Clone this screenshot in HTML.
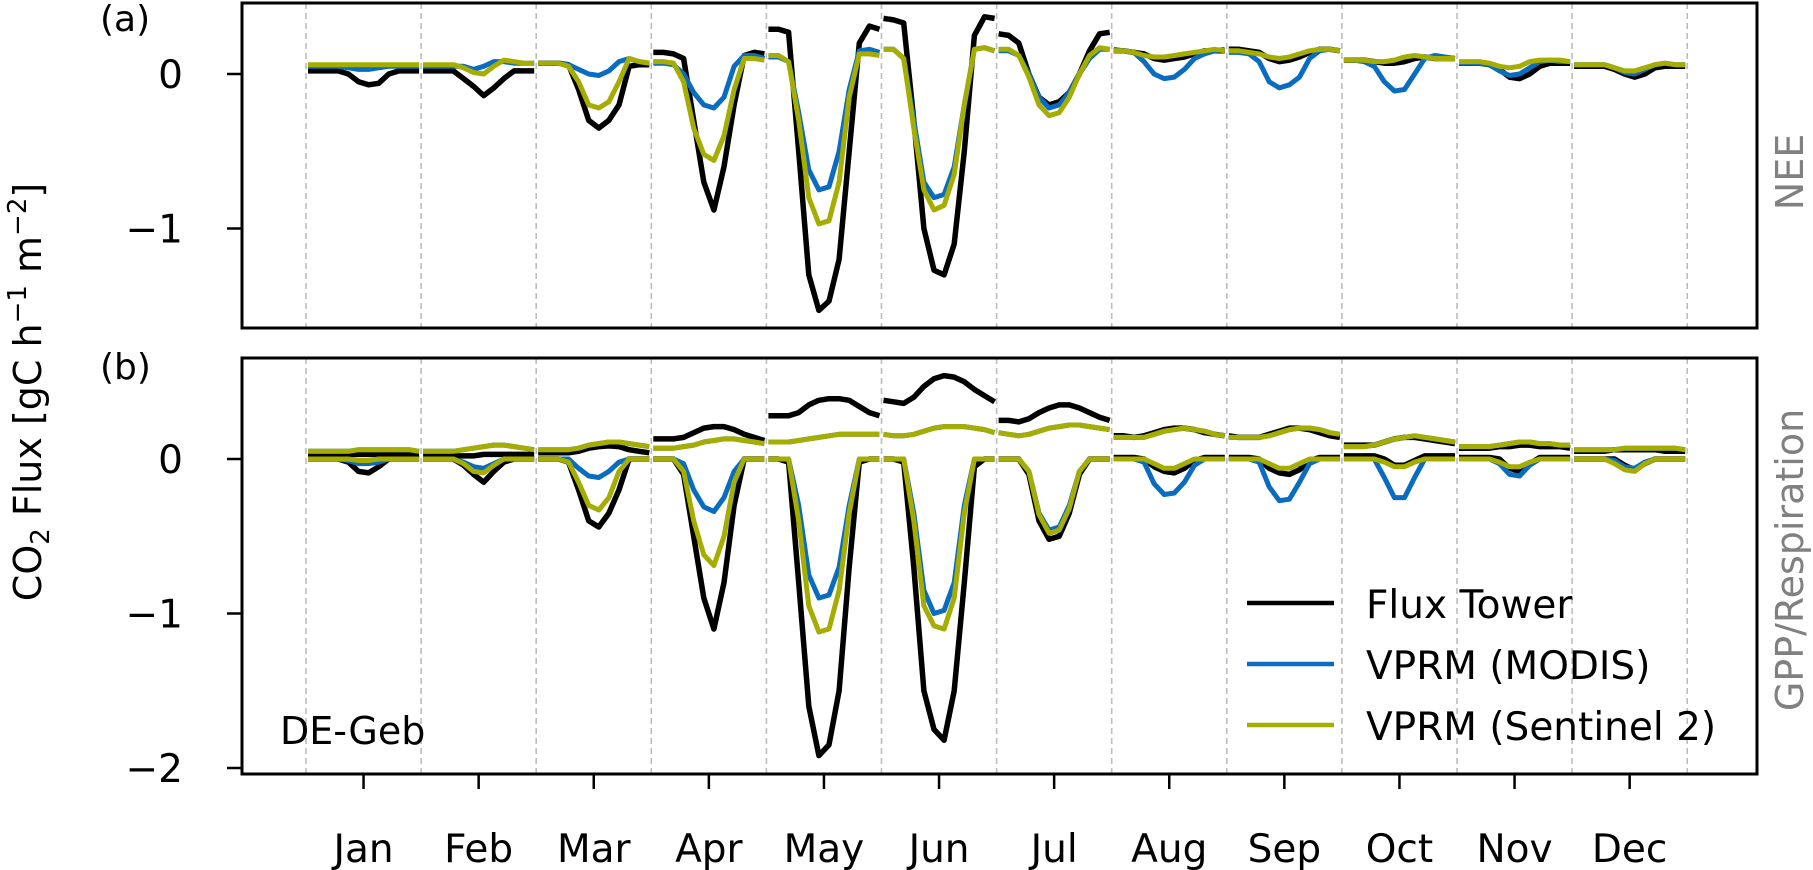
<!DOCTYPE html>
<html><head><meta charset="utf-8"><style>
html,body{margin:0;padding:0;background:#fff;}
svg{display:block;font-family:"DejaVu Sans","Liberation Sans",sans-serif;}
</style></head><body>
<svg id="chart" width="1813" height="870" viewBox="0 0 1813 870" xmlns="http://www.w3.org/2000/svg">
<g id="grid"></g><g id="series"></g><g id="axes"></g>
</svg>
<script>
const months=["Jan","Feb","Mar","Apr","May","Jun","Jul","Aug","Sep","Oct","Nov","Dec"];
const yTicksTop=[0,-1];
const yTicksBot=[0,-1,-2];
// NEE (panel a) – 12 bi-hourly values per month
const towerNEE=[[0.02,0.02,0.02,0.02,0.0,-0.05,-0.07,-0.06,0.0,0.02,0.02,0.02],[0.02,0.02,0.02,0.02,-0.03,-0.08,-0.14,-0.09,-0.03,0.02,0.02,0.02],[0.07,0.07,0.07,0.06,-0.1,-0.3,-0.35,-0.3,-0.2,0.05,0.06,0.06],[0.14,0.14,0.13,0.1,-0.3,-0.7,-0.88,-0.6,-0.2,0.12,0.14,0.13],[0.29,0.29,0.27,-0.5,-1.3,-1.53,-1.47,-1.2,-0.5,0.2,0.31,0.29],[0.36,0.35,0.33,-0.3,-1.0,-1.27,-1.3,-1.1,-0.5,0.25,0.37,0.36],[0.26,0.25,0.2,0.0,-0.15,-0.2,-0.18,-0.12,0.0,0.15,0.26,0.27],[0.15,0.15,0.14,0.13,0.1,0.09,0.1,0.11,0.13,0.15,0.15,0.15],[0.16,0.16,0.15,0.14,0.1,0.08,0.09,0.11,0.14,0.16,0.16,0.15],[0.09,0.09,0.09,0.08,0.07,0.07,0.08,0.1,0.11,0.1,0.1,0.1],[0.07,0.07,0.07,0.06,0.03,-0.02,-0.03,0.0,0.05,0.07,0.07,0.07],[0.05,0.05,0.05,0.05,0.03,0.0,-0.02,0.0,0.04,0.05,0.05,0.05]];
const modisNEE=[[0.05,0.05,0.05,0.05,0.04,0.03,0.03,0.04,0.05,0.05,0.05,0.05],[0.05,0.05,0.05,0.05,0.05,0.03,0.05,0.08,0.08,0.07,0.07,0.07],[0.07,0.07,0.07,0.06,0.03,0.0,-0.01,0.02,0.08,0.1,0.08,0.07],[0.07,0.07,0.06,0.0,-0.12,-0.2,-0.22,-0.15,0.05,0.12,0.12,0.1],[0.11,0.11,0.08,-0.25,-0.62,-0.75,-0.73,-0.5,-0.1,0.15,0.16,0.14],[0.16,0.16,0.1,-0.3,-0.7,-0.8,-0.78,-0.6,-0.2,0.16,0.17,0.15],[0.15,0.15,0.12,0.0,-0.15,-0.22,-0.2,-0.12,0.0,0.1,0.16,0.16],[0.16,0.15,0.14,0.08,0.0,-0.03,-0.02,0.03,0.1,0.13,0.15,0.16],[0.14,0.14,0.13,0.08,-0.05,-0.09,-0.07,-0.02,0.1,0.15,0.16,0.15],[0.09,0.09,0.08,0.05,-0.05,-0.11,-0.1,0.0,0.1,0.12,0.11,0.1],[0.07,0.07,0.07,0.06,0.02,-0.01,0.0,0.04,0.08,0.09,0.08,0.08],[0.06,0.06,0.06,0.06,0.04,0.01,0.0,0.03,0.06,0.07,0.06,0.06]];
const s2NEE=[[0.06,0.06,0.06,0.06,0.06,0.06,0.06,0.06,0.06,0.06,0.06,0.06],[0.06,0.06,0.06,0.06,0.04,0.01,0.0,0.05,0.09,0.08,0.07,0.07],[0.07,0.07,0.07,0.05,-0.05,-0.2,-0.22,-0.18,-0.05,0.1,0.08,0.07],[0.08,0.08,0.07,-0.05,-0.35,-0.52,-0.56,-0.4,-0.1,0.1,0.1,0.09],[0.12,0.12,0.08,-0.3,-0.8,-0.97,-0.95,-0.7,-0.15,0.13,0.13,0.12],[0.16,0.16,0.1,-0.35,-0.75,-0.88,-0.85,-0.65,-0.2,0.16,0.17,0.15],[0.16,0.16,0.12,-0.02,-0.2,-0.27,-0.25,-0.15,0.0,0.12,0.17,0.16],[0.15,0.15,0.14,0.12,0.11,0.11,0.12,0.13,0.14,0.15,0.16,0.15],[0.15,0.15,0.14,0.13,0.11,0.1,0.11,0.13,0.15,0.16,0.16,0.15],[0.09,0.09,0.09,0.08,0.08,0.09,0.11,0.12,0.11,0.1,0.1,0.1],[0.08,0.08,0.08,0.07,0.05,0.04,0.05,0.08,0.09,0.09,0.09,0.08],[0.06,0.06,0.06,0.06,0.04,0.02,0.02,0.04,0.06,0.07,0.06,0.06]];
// GPP (panel b)
const towerGPP=[[0,0,0,0,-0.02,-0.08,-0.09,-0.05,0,0,0,0],[0,0,0,0,-0.04,-0.1,-0.15,-0.08,-0.02,0,0,0],[0,0,0,-0.02,-0.2,-0.4,-0.44,-0.35,-0.2,0,0,0],[0,0,0,-0.1,-0.5,-0.9,-1.1,-0.8,-0.3,0,0,0],[0,0,-0.02,-0.8,-1.6,-1.92,-1.85,-1.5,-0.7,-0.02,0,0],[0,0,-0.02,-0.7,-1.5,-1.75,-1.82,-1.5,-0.8,-0.05,0,0],[0,0,0,-0.1,-0.4,-0.52,-0.5,-0.35,-0.1,0,0,0],[0.01,0.01,0.01,0,-0.05,-0.08,-0.09,-0.06,-0.01,0.01,0.01,0.01],[0.01,0.01,0.01,0,-0.06,-0.09,-0.1,-0.07,-0.01,0.01,0.01,0.01],[0.02,0.02,0.02,0.02,0,-0.04,-0.04,-0.01,0.02,0.02,0.02,0.02],[0.01,0.01,0.01,0.01,0,-0.06,-0.08,-0.03,0.01,0.01,0.01,0.01],[0,0,0,0,0,-0.04,-0.07,-0.03,0,0,0,0]];
const modisGPP=[[0,0,0,0,-0.01,-0.03,-0.03,-0.02,0,0,0,0],[0,0,0,0,-0.02,-0.05,-0.06,-0.03,0,0,0,0],[0,0,0,0,-0.06,-0.11,-0.12,-0.08,-0.02,0,0,0],[0,0,0,-0.03,-0.2,-0.31,-0.34,-0.25,-0.08,0,0,0],[0,0,0,-0.3,-0.75,-0.9,-0.88,-0.7,-0.3,0,0,0],[0,0,0,-0.35,-0.85,-1.0,-0.98,-0.8,-0.3,0,0,0],[0,0,0,-0.08,-0.35,-0.46,-0.44,-0.3,-0.08,0,0,0],[0,0,0,-0.02,-0.16,-0.23,-0.22,-0.15,-0.04,0,0,0],[0,0,0,-0.02,-0.18,-0.27,-0.26,-0.15,-0.03,0,0,0],[0,0,0,0,-0.12,-0.25,-0.25,-0.12,0,0,0,0],[0,0,0,0,-0.03,-0.1,-0.11,-0.04,0,0,0,0],[0,0,0,0,-0.01,-0.05,-0.06,-0.02,0,0,0,0]];
const s2GPP=[[0,0,0,0,0,-0.01,-0.01,0,0,0,0,0],[0,0,0,0,-0.03,-0.08,-0.09,-0.04,0,0,0,0],[0,0,0,-0.02,-0.15,-0.3,-0.33,-0.25,-0.08,0,0,0],[0,0,0,-0.08,-0.4,-0.62,-0.69,-0.5,-0.15,0,0,0],[0,0,0,-0.4,-0.95,-1.12,-1.1,-0.85,-0.35,0,0,0],[0,0,0,-0.4,-0.95,-1.08,-1.1,-0.9,-0.35,0,0,0],[0,0,0,-0.08,-0.36,-0.48,-0.46,-0.32,-0.08,0,0,0],[0,0,0,0,-0.03,-0.06,-0.06,-0.03,0,0,0,0],[0,0,0,0,-0.03,-0.06,-0.06,-0.03,0,0,0,0],[0,0,0,0,-0.02,-0.05,-0.05,-0.02,0,0,0,0],[0,0,0,0,-0.02,-0.05,-0.05,-0.02,0,0,0,0],[0,0,0,0,-0.03,-0.07,-0.08,-0.03,0,0,0,0]];
// Respiration (panel b)
const towerResp=[[0.03,0.03,0.03,0.03,0.03,0.03,0.03,0.03,0.03,0.03,0.03,0.03],[0.02,0.02,0.02,0.02,0.02,0.02,0.03,0.03,0.03,0.03,0.03,0.03],[0.04,0.04,0.04,0.04,0.05,0.07,0.08,0.085,0.08,0.06,0.05,0.04],[0.13,0.13,0.13,0.14,0.17,0.2,0.21,0.21,0.19,0.16,0.14,0.12],[0.28,0.28,0.28,0.3,0.35,0.38,0.39,0.39,0.38,0.34,0.3,0.28],[0.38,0.37,0.36,0.4,0.47,0.52,0.54,0.53,0.5,0.45,0.41,0.37],[0.25,0.25,0.24,0.26,0.3,0.33,0.35,0.35,0.33,0.3,0.27,0.25],[0.15,0.15,0.14,0.15,0.17,0.19,0.2,0.2,0.19,0.17,0.16,0.15],[0.15,0.14,0.14,0.14,0.16,0.18,0.2,0.2,0.19,0.17,0.15,0.14],[0.09,0.09,0.09,0.09,0.11,0.13,0.14,0.14,0.13,0.12,0.11,0.1],[0.07,0.07,0.07,0.07,0.08,0.08,0.09,0.09,0.08,0.08,0.08,0.07],[0.05,0.05,0.05,0.05,0.06,0.06,0.06,0.06,0.06,0.05,0.05,0.05]];
const modisResp=[[0.05,0.05,0.05,0.05,0.05,0.06,0.06,0.06,0.06,0.06,0.06,0.05],[0.05,0.05,0.05,0.05,0.06,0.07,0.08,0.09,0.09,0.08,0.07,0.06],[0.06,0.06,0.06,0.06,0.07,0.09,0.1,0.11,0.11,0.1,0.09,0.08],[0.07,0.07,0.07,0.08,0.09,0.11,0.12,0.13,0.13,0.12,0.11,0.1],[0.11,0.11,0.11,0.12,0.13,0.14,0.15,0.16,0.16,0.16,0.16,0.16],[0.16,0.15,0.15,0.16,0.18,0.2,0.21,0.21,0.21,0.2,0.19,0.17],[0.17,0.16,0.15,0.16,0.18,0.2,0.21,0.22,0.22,0.21,0.2,0.19],[0.14,0.14,0.14,0.14,0.16,0.18,0.19,0.2,0.19,0.18,0.16,0.15],[0.14,0.14,0.14,0.14,0.15,0.17,0.19,0.2,0.2,0.19,0.17,0.16],[0.08,0.08,0.08,0.09,0.11,0.13,0.14,0.15,0.14,0.13,0.12,0.11],[0.08,0.08,0.08,0.08,0.09,0.1,0.11,0.11,0.1,0.1,0.09,0.09],[0.06,0.06,0.06,0.06,0.06,0.07,0.07,0.07,0.07,0.07,0.07,0.06]];
const s2Resp=[[0.05,0.05,0.05,0.05,0.05,0.06,0.06,0.06,0.06,0.06,0.06,0.05],[0.05,0.05,0.05,0.05,0.06,0.07,0.08,0.09,0.09,0.08,0.07,0.06],[0.06,0.06,0.06,0.06,0.07,0.09,0.1,0.11,0.11,0.1,0.09,0.08],[0.07,0.07,0.07,0.08,0.09,0.11,0.12,0.13,0.13,0.12,0.11,0.1],[0.11,0.11,0.11,0.12,0.13,0.14,0.15,0.16,0.16,0.16,0.16,0.16],[0.16,0.15,0.15,0.16,0.18,0.2,0.21,0.21,0.21,0.2,0.19,0.17],[0.17,0.16,0.15,0.16,0.18,0.2,0.21,0.22,0.22,0.21,0.2,0.19],[0.14,0.14,0.14,0.14,0.16,0.18,0.19,0.2,0.19,0.18,0.16,0.15],[0.14,0.14,0.14,0.14,0.15,0.17,0.19,0.2,0.2,0.19,0.17,0.16],[0.08,0.08,0.08,0.09,0.11,0.13,0.14,0.15,0.14,0.13,0.12,0.11],[0.08,0.08,0.08,0.08,0.09,0.1,0.11,0.11,0.1,0.1,0.09,0.09],[0.06,0.06,0.06,0.06,0.06,0.07,0.07,0.07,0.07,0.07,0.07,0.06]];

const NS="http://www.w3.org/2000/svg";
const X0=242,X1=1757,MONTH0=306,MW=115.1;
const PA={top:3,bot:328,zero:74,unit:154.5};
const PB={top:358,bot:774,zero:459,unit:154.5};
const C_BLACK="#000",C_BLUE="#0a6cc0",C_OLIVE="#a4ad00";
function xMonthStart(m){return MONTH0+MW*m;}
function xPoint(m,i,n){return xMonthStart(m)+2+(i/(n-1))*(MW-4);}
function yVal(p,v){return p.zero-v*p.unit;}
function mk(tag,attrs,parent){const e=document.createElementNS(NS,tag);for(const k in attrs)e.setAttribute(k,attrs[k]);parent.appendChild(e);return e;}
const grid=document.getElementById('grid'),ser=document.getElementById('series'),ax=document.getElementById('axes');

[PA,PB].forEach((p,pi)=>{
  for(let k=0;k<=12;k++){
    const x=xMonthStart(k);
    const l=mk('line',{x1:x,x2:x,y1:p.top,y2:p.bot,stroke:'#bdbdbd','stroke-width':1.6,'stroke-dasharray':'6,4'},grid);
    
    
  }
});

function drawSeries(data,p,color,name,w){
  const g=mk('g',{},ser);
  
  
  data.forEach((arr,m)=>{
    const pts=arr.map((v,i)=>xPoint(m,i,arr.length).toFixed(1)+','+yVal(p,v).toFixed(1)).join(' ');
    const pl=mk('polyline',{points:pts,fill:'none',stroke:color,'stroke-width':w,'stroke-linejoin':'round'},g);
    
    
  });
}
drawSeries(towerNEE,PA,C_BLACK,'tower-nee-line',5.5);
drawSeries(modisNEE,PA,C_BLUE,'modis-nee-line',5);
drawSeries(s2NEE,PA,C_OLIVE,'sentinel-nee-line',5);
drawSeries(towerResp,PB,C_BLACK,'tower-resp-line',5.5);
drawSeries(towerGPP,PB,C_BLACK,'tower-gpp-line',5.5);
drawSeries(modisResp,PB,C_BLUE,'modis-resp-line',5);
drawSeries(modisGPP,PB,C_BLUE,'modis-gpp-line',5);
drawSeries(s2Resp,PB,C_OLIVE,'sentinel-resp-line',5);
drawSeries(s2GPP,PB,C_OLIVE,'sentinel-gpp-line',5);

[[PA,'panel-a-frame'],[PB,'panel-b-frame']].forEach(([p,n])=>{
  const r=mk('rect',{x:X0,y:p.top,width:X1-X0,height:p.bot-p.top,fill:'none',stroke:'#000','stroke-width':3},ax);
  
  
});
function yTicks(p,ticks,name){
  ticks.forEach(t=>{
    const y=yVal(p,t);
    const l=mk('line',{x1:X0-15,x2:X0,y1:y,y2:y,stroke:'#000','stroke-width':2.5},ax);
    
    
    const tx=mk('text',{x:183,y:y+14,'text-anchor':'end','font-size':39,fill:'#000'},ax);
    tx.textContent=t<0?'\u2212'+Math.abs(t):String(t);
    
    
  });
}
yTicks(PA,yTicksTop,'panel-a-y-tick');
yTicks(PB,yTicksBot,'panel-b-y-tick');
months.forEach((mn,m)=>{
  const x=xMonthStart(m)+MW/2;
  const l=mk('line',{x1:x,x2:x,y1:PB.bot,y2:PB.bot+15,stroke:'#000','stroke-width':2.5},ax);
  
  
  const t=mk('text',{x:x,y:862,'text-anchor':'middle','font-size':39,fill:'#000'},ax);
  t.textContent=mn;
  
  
});
</script>
<svg style="position:absolute;left:0;top:0" width="1813" height="870" xmlns="http://www.w3.org/2000/svg" font-family="DejaVu Sans, Liberation Sans, sans-serif">
<text x="100" y="31" font-size="36">(a)</text>
<text x="100" y="379" font-size="36">(b)</text>
<text transform="translate(41,392) rotate(-90)" text-anchor="middle" font-size="38">CO<tspan font-size="26" dy="8">2</tspan><tspan dy="-8"> Flux [gC h</tspan><tspan font-size="26" dy="-15">−1</tspan><tspan dy="15"> m</tspan><tspan font-size="26" dy="-15">−2</tspan><tspan dy="15">]</tspan></text>
<text transform="translate(1803,172) rotate(-90)" text-anchor="middle" font-size="38" fill="#808080">NEE</text>
<text transform="translate(1803,560) rotate(-90)" text-anchor="middle" font-size="38" fill="#808080">GPP/Respiration</text>
<text x="280" y="744" font-size="38">DE-Geb</text>
<g>
<line x1="1247" x2="1334" y1="603" y2="603" stroke="#000" stroke-width="4.5"/>
<text x="1366" y="618" font-size="39">Flux Tower</text>
<line x1="1247" x2="1334" y1="664" y2="664" stroke="#0a6cc0" stroke-width="4.5"/>
<text x="1366" y="679" font-size="39">VPRM (MODIS)</text>
<line x1="1247" x2="1334" y1="725" y2="725" stroke="#a4ad00" stroke-width="4.5"/>
<text x="1366" y="740" font-size="39">VPRM (Sentinel 2)</text>
</g>
</svg>
</body></html>
